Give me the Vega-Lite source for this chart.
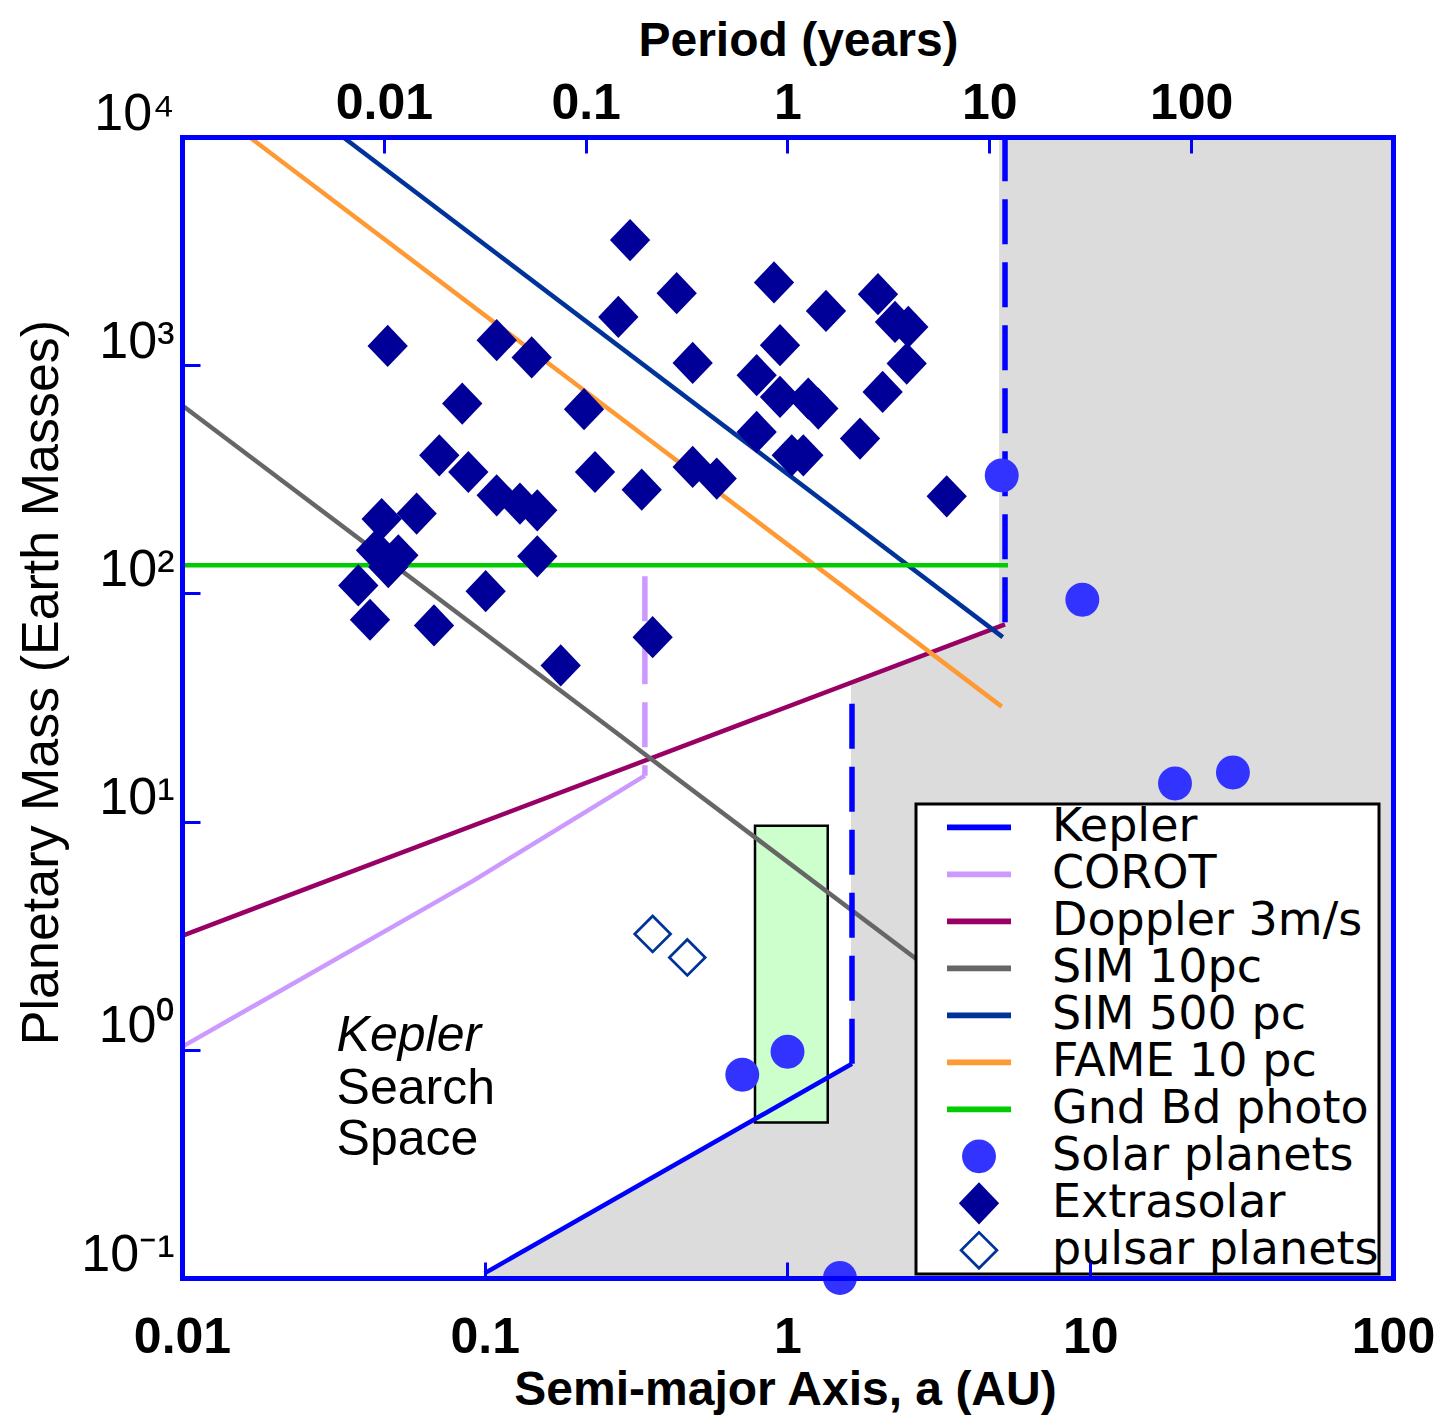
{
  "$schema": "https://vega.github.io/schema/vega-lite/v6.json",
  "width": 1211,
  "height": 1141,
  "autosize": {"type": "none"},
  "padding": {"left": 182, "top": 137, "right": 51, "bottom": 141},
  "background": "white",
  "config": {"view": {"stroke": null}, "font": "Liberation Sans"},
  "datasets": {
    "region": [
      {"a": 0.1, "mass": 0.105},
      {"a": 1.62, "mass": 0.864},
      {"a": 1.62, "mass": 40.6},
      {"a": 5.0, "mass": 71.5},
      {"a": 5.0, "mass": 10000},
      {"a": 100, "mass": 10000}
    ],
    "box": [{"amin": 0.781, "amax": 1.358, "mmin": 0.48, "mmax": 9.6}],
    "solid": [
      {"series": "Kepler", "a": 0.1, "mass": 0.105},
      {"series": "Kepler", "a": 1.633, "mass": 0.869},
      {"series": "COROT", "a": 0.01, "mass": 1.03},
      {"series": "COROT", "a": 0.0915, "mass": 5.5},
      {"series": "COROT", "a": 0.338, "mass": 15.9},
      {"series": "Doppler 3m/s", "a": 0.01, "mass": 3.16},
      {"series": "Doppler 3m/s", "a": 5.23, "mass": 73.2},
      {"series": "SIM 10pc", "a": 0.01, "mass": 668},
      {"series": "SIM 10pc", "a": 3.0, "mass": 2.22},
      {"series": "SIM 500 pc", "a": 0.034, "mass": 10000},
      {"series": "SIM 500 pc", "a": 5.14, "mass": 64.3},
      {"series": "FAME 10 pc", "a": 0.0167, "mass": 10000},
      {"series": "FAME 10 pc", "a": 5.1, "mass": 31.9},
      {"series": "Gnd Bd photo", "a": 0.01, "mass": 133},
      {"series": "Gnd Bd photo", "a": 5.35, "mass": 133}
    ],
    "dashed": [
      {"series": "Kepler", "seg": "k2", "a": 1.633, "mass": 0.869},
      {"series": "Kepler", "seg": "k2", "a": 1.633, "mass": 33},
      {"series": "Kepler", "seg": "k3", "a": 5.23, "mass": 74.7},
      {"series": "Kepler", "seg": "k3", "a": 5.23, "mass": 10000},
      {"series": "COROT", "seg": "c2", "a": 0.338, "mass": 118.8},
      {"series": "COROT", "seg": "c2", "a": 0.338, "mass": 15.9}
    ],
    "planets": [
      {"series": "Extrasolar", "a": 0.302, "mass": 3533},
      {"series": "Extrasolar", "a": 0.4305, "mass": 2069},
      {"series": "Extrasolar", "a": 0.2762, "mass": 1628},
      {"series": "Extrasolar", "a": 0.04779, "mass": 1215},
      {"series": "Extrasolar", "a": 0.1095, "mass": 1287},
      {"series": "Extrasolar", "a": 0.1429, "mass": 1081},
      {"series": "Extrasolar", "a": 0.4862, "mass": 1023},
      {"series": "Extrasolar", "a": 0.08427, "mass": 679.2},
      {"series": "Extrasolar", "a": 0.2128, "mass": 641.2},
      {"series": "Extrasolar", "a": 0.07077, "mass": 402.9},
      {"series": "Extrasolar", "a": 0.08826, "mass": 340.4},
      {"series": "Extrasolar", "a": 0.2313, "mass": 340.4},
      {"series": "Extrasolar", "a": 0.33, "mass": 284.9},
      {"series": "Extrasolar", "a": 0.9024, "mass": 2305},
      {"series": "Extrasolar", "a": 1.99, "mass": 2048},
      {"series": "Extrasolar", "a": 1.34, "mass": 1730},
      {"series": "Extrasolar", "a": 2.265, "mass": 1548},
      {"series": "Extrasolar", "a": 2.506, "mass": 1472},
      {"series": "Extrasolar", "a": 2.476, "mass": 1017},
      {"series": "Extrasolar", "a": 0.9445, "mass": 1224},
      {"series": "Extrasolar", "a": 0.791, "mass": 903.8},
      {"series": "Extrasolar", "a": 0.9445, "mass": 726.1},
      {"series": "Extrasolar", "a": 1.171, "mass": 714.5},
      {"series": "Extrasolar", "a": 1.264, "mass": 645.8},
      {"series": "Extrasolar", "a": 2.062, "mass": 763.6},
      {"series": "Extrasolar", "a": 0.791, "mass": 509.9},
      {"series": "Extrasolar", "a": 1.033, "mass": 402.9},
      {"series": "Extrasolar", "a": 1.128, "mass": 402.9},
      {"series": "Extrasolar", "a": 1.736, "mass": 476.9},
      {"series": "Extrasolar", "a": 0.4862, "mass": 358.1},
      {"series": "Extrasolar", "a": 0.5837, "mass": 318.5},
      {"series": "Extrasolar", "a": 3.356, "mass": 266.4},
      {"series": "Extrasolar", "a": 0.1095, "mass": 269.1},
      {"series": "Extrasolar", "a": 0.1307, "mass": 247.4},
      {"series": "Extrasolar", "a": 0.1491, "mass": 231.2},
      {"series": "Extrasolar", "a": 0.04566, "mass": 211.8},
      {"series": "Extrasolar", "a": 0.05958, "mass": 223.7},
      {"series": "Extrasolar", "a": 0.04373, "mass": 154.4},
      {"series": "Extrasolar", "a": 0.05183, "mass": 146.8},
      {"series": "Extrasolar", "a": 0.04801, "mass": 130.5},
      {"series": "Extrasolar", "a": 0.1491, "mass": 145.3},
      {"series": "Extrasolar", "a": 0.03822, "mass": 108.4},
      {"series": "Extrasolar", "a": 0.1007, "mass": 102.3},
      {"series": "Extrasolar", "a": 0.04178, "mass": 76.65},
      {"series": "Extrasolar", "a": 0.06798, "mass": 72.36},
      {"series": "Extrasolar", "a": 0.3586, "mass": 64.32},
      {"series": "Extrasolar", "a": 0.1782, "mass": 48.32},
      {"series": "Solar planets", "a": 5.1, "mass": 329},
      {"series": "Solar planets", "a": 9.415, "mass": 93.8},
      {"series": "Solar planets", "a": 19.05, "mass": 14.68},
      {"series": "Solar planets", "a": 29.6, "mass": 16.4},
      {"series": "Solar planets", "a": 1.0, "mass": 0.98},
      {"series": "Solar planets", "a": 0.709, "mass": 0.777},
      {"series": "Solar planets", "a": 1.49, "mass": 0.1},
      {"series": "pulsar planets", "a": 0.3586, "mass": 3.22},
      {"series": "pulsar planets", "a": 0.4667, "mass": 2.54}
    ],
    "notes": [
      {"label": "Kepler", "a": 0.0324, "mass": 0.99},
      {"label": "Search", "a": 0.0324, "mass": 0.581},
      {"label": "Space", "a": 0.0324, "mass": 0.346}
    ]
  },
  "resolve": {"axis": {"x": "independent", "y": "independent"}},
  "layer": [
    {
      "data": {"name": "region"},
      "mark": {"type": "area", "color": "#dcdcdc", "opacity": 1, "line": false, "orient": "vertical"},
      "encoding": {
        "x": {
          "field": "a", "type": "quantitative",
          "scale": {"type": "log", "domain": [0.01, 100], "nice": false},
          "axis": {
            "orient": "bottom", "values": [0.01, 0.1, 1, 10, 100], "format": "~g",
            "title": "Semi-major Axis, a (AU)", "grid": false, "zindex": 1,
            "domain": true, "domainColor": "#0000ff", "domainWidth": 5, "domainCap": "square",
            "ticks": true, "tickColor": "#0000ff", "tickWidth": 3, "tickSize": -16,
            "labelFont": "Liberation Sans", "labelFontWeight": "bold", "labelFontSize": 50, "labelColor": "black",
            "labelPadding": 90, "labelBaseline": "alphabetic", "labelFlush": false, "labelOverlap": false,
            "titleFont": "Liberation Sans", "titleFontWeight": "bold", "titleFontSize": 48, "titleColor": "black",
            "titleBaseline": "alphabetic", "titleY": 126, "titleX": 603
          }
        },
        "y": {
          "field": "mass", "type": "quantitative",
          "scale": {"type": "log", "domain": [0.1, 10000], "nice": false},
          "axis": {
            "orient": "left", "values": [0.1, 1, 10, 100, 1000, 10000],
            "labelExpr": "'10' + ['⁻¹','⁰','¹','²','³','⁴'][round(log(datum.value)/LN10)+1]",
            "title": "Planetary Mass (Earth Masses)", "grid": false, "zindex": 1,
            "domain": true, "domainColor": "#0000ff", "domainWidth": 5, "domainCap": "square",
            "ticks": true, "tickColor": "#0000ff", "tickWidth": 3, "tickSize": -18,
            "labelFont": "Liberation Sans", "labelFontSize": 52, "labelColor": "black",
            "labelPadding": 26, "labelBaseline": "alphabetic", "labelOffset": -8, "labelFlush": false, "labelOverlap": false,
            "titleFont": "Liberation Sans", "titleFontWeight": "normal", "titleFontSize": 52, "titleColor": "black",
            "titleBaseline": "alphabetic", "titleX": -125, "titleY": 545, "titleAngle": -90
          }
        },
        "y2": {"datum": 0.1}
      }
    },
    {
      "data": {"name": "box"},
      "mark": {"type": "rect", "fill": "#ccffcc", "stroke": "black", "strokeWidth": 2.5},
      "encoding": {
        "x": {
          "field": "amin", "type": "quantitative",
          "scale": {"type": "log", "domain": [0.01, 100], "nice": false},
          "axis": {
            "orient": "top", "values": [0.046416, 0.215443, 1, 4.641589, 21.544347],
            "labelExpr": "format(round(pow(datum.value, 1.5) * 1000) / 1000, '~g')",
            "title": "Period (years)", "grid": false, "zindex": 1,
            "domain": true, "domainColor": "#0000ff", "domainWidth": 5, "domainCap": "square",
            "ticks": true, "tickColor": "#0000ff", "tickWidth": 3, "tickSize": -16,
            "labelFont": "Liberation Sans", "labelFontWeight": "bold", "labelFontSize": 50, "labelColor": "black",
            "labelPadding": 35, "labelBaseline": "alphabetic", "labelFlush": false, "labelOverlap": false,
            "titleFont": "Liberation Sans", "titleFontWeight": "bold", "titleFontSize": 48, "titleColor": "black",
            "titleBaseline": "alphabetic", "titleY": -82, "titleX": 616
          }
        },
        "x2": {"field": "amax"},
        "y": {
          "field": "mmin", "type": "quantitative",
          "scale": {"type": "log", "domain": [0.1, 10000], "nice": false},
          "axis": null
        },
        "y2": {"field": "mmax"}
      }
    },
    {
      "data": {"name": "solid"},
      "mark": {"type": "line", "strokeWidth": 4.5, "strokeCap": "butt"},
      "encoding": {
        "x": {"field": "a", "type": "quantitative", "scale": {"type": "log", "domain": [0.01, 100], "nice": false}, "axis": null},
        "y": {"field": "mass", "type": "quantitative", "scale": {"type": "log", "domain": [0.1, 10000], "nice": false}, "axis": null},
        "stroke": {
          "field": "series", "type": "nominal", "legend": null,
          "scale": {
            "domain": ["Kepler", "COROT", "Doppler 3m/s", "SIM 10pc", "SIM 500 pc", "FAME 10 pc", "Gnd Bd photo"],
            "range": ["#0000ff", "#cc99ff", "#990066", "#666666", "#003399", "#ff9933", "#00cc00"]
          }
        }
      }
    },
    {
      "data": {"name": "dashed"},
      "mark": {"type": "line", "strokeWidth": 5.5, "strokeCap": "butt", "strokeDash": [45, 18]},
      "encoding": {
        "x": {"field": "a", "type": "quantitative", "scale": {"type": "log", "domain": [0.01, 100], "nice": false}, "axis": null},
        "y": {"field": "mass", "type": "quantitative", "scale": {"type": "log", "domain": [0.1, 10000], "nice": false}, "axis": null},
        "detail": {"field": "seg", "type": "nominal"},
        "stroke": {
          "field": "series", "type": "nominal", "legend": null,
          "scale": {
            "domain": ["Kepler", "COROT", "Doppler 3m/s", "SIM 10pc", "SIM 500 pc", "FAME 10 pc", "Gnd Bd photo"],
            "range": ["#0000ff", "#cc99ff", "#990066", "#666666", "#003399", "#ff9933", "#00cc00"]
          }
        }
      }
    },
    {
      "data": {"name": "planets"},
      "mark": {"type": "point", "filled": true, "size": 4096, "opacity": 1, "strokeWidth": 0},
      "encoding": {
        "x": {"field": "a", "type": "quantitative", "scale": {"type": "log", "domain": [0.01, 100], "nice": false}, "axis": null},
        "y": {"field": "mass", "type": "quantitative", "scale": {"type": "log", "domain": [0.1, 10000], "nice": false}, "axis": null},
        "color": {
          "field": "series", "type": "nominal",
          "scale": {
            "domain": ["Kepler", "COROT", "Doppler 3m/s", "SIM 10pc", "SIM 500 pc", "FAME 10 pc", "Gnd Bd photo", "Solar planets", "Extrasolar", "pulsar planets"],
            "range": ["#0000ff", "#cc99ff", "#990066", "#666666", "#003399", "#ff9933", "#00cc00", "#3333ff", "#000099", "#003399"]
          },
          "legend": {
            "orient": "none", "legendX": 734, "legendY": 667, "title": null, "padding": 0,
            "fillColor": "white", "strokeColor": "black",
            "symbolSize": 4096, "symbolStrokeWidth": 0, "symbolOpacity": 1, "symbolOffset": 31,
            "labelOffset": 41, "clipHeight": 46.7, "rowPadding": 0,
            "labelFont": "DejaVu Sans", "labelFontSize": 46, "labelColor": "black", "labelLimit": 600,
            "encode": {"legend": {"update": {"strokeWidth": {"value": 3}}}}
          }
        },
        "shape": {
          "field": "series", "type": "nominal",
          "scale": {
            "domain": ["Kepler", "COROT", "Doppler 3m/s", "SIM 10pc", "SIM 500 pc", "FAME 10 pc", "Gnd Bd photo", "Solar planets", "Extrasolar", "pulsar planets"],
            "range": [
              "M-1,-0.09H1V0.09H-1Z", "M-1,-0.09H1V0.09H-1Z", "M-1,-0.09H1V0.09H-1Z", "M-1,-0.09H1V0.09H-1Z",
              "M-1,-0.09H1V0.09H-1Z", "M-1,-0.09H1V0.09H-1Z", "M-1,-0.09H1V0.09H-1Z",
              "M-0.53,0A0.53,0.53,0,1,0,0.53,0A0.53,0.53,0,1,0,-0.53,0Z",
              "M0,-0.66L0.63,0L0,0.66L-0.63,0Z",
              "M0,-0.62L0.62,0L0,0.62L-0.62,0ZM0,-0.5L-0.5,0L0,0.5L0.5,0Z"
            ]
          },
          "legend": {
            "orient": "none", "legendX": 734, "legendY": 667, "title": null, "padding": 0,
            "fillColor": "white", "strokeColor": "black",
            "symbolSize": 4096, "symbolStrokeWidth": 0, "symbolOpacity": 1, "symbolOffset": 31,
            "labelOffset": 41, "clipHeight": 46.7, "rowPadding": 0,
            "labelFont": "DejaVu Sans", "labelFontSize": 46, "labelColor": "black", "labelLimit": 600,
            "encode": {"legend": {"update": {"strokeWidth": {"value": 3}}}}
          }
        }
      }
    },
    {
      "data": {"name": "notes"},
      "transform": [{"filter": "datum.label === 'Kepler'"}],
      "mark": {"type": "text", "align": "left", "baseline": "alphabetic", "font": "Liberation Sans", "fontSize": 50, "fontStyle": "italic", "color": "black"},
      "encoding": {
        "x": {"field": "a", "type": "quantitative", "scale": {"type": "log", "domain": [0.01, 100], "nice": false}, "axis": null},
        "y": {"field": "mass", "type": "quantitative", "scale": {"type": "log", "domain": [0.1, 10000], "nice": false}, "axis": null},
        "text": {"field": "label", "type": "nominal"}
      }
    },
    {
      "data": {"name": "notes"},
      "transform": [{"filter": "datum.label !== 'Kepler'"}],
      "mark": {"type": "text", "align": "left", "baseline": "alphabetic", "font": "Liberation Sans", "fontSize": 50, "color": "black"},
      "encoding": {
        "x": {"field": "a", "type": "quantitative", "scale": {"type": "log", "domain": [0.01, 100], "nice": false}, "axis": null},
        "y": {
          "field": "mass", "type": "quantitative", "scale": {"type": "log", "domain": [0.1, 10000], "nice": false},
          "axis": {"orient": "right", "labels": false, "ticks": false, "title": null, "grid": false, "zindex": 1,
                   "domain": true, "domainColor": "#0000ff", "domainWidth": 5, "domainCap": "square"}
        },
        "text": {"field": "label", "type": "nominal"}
      }
    }
  ]
}
